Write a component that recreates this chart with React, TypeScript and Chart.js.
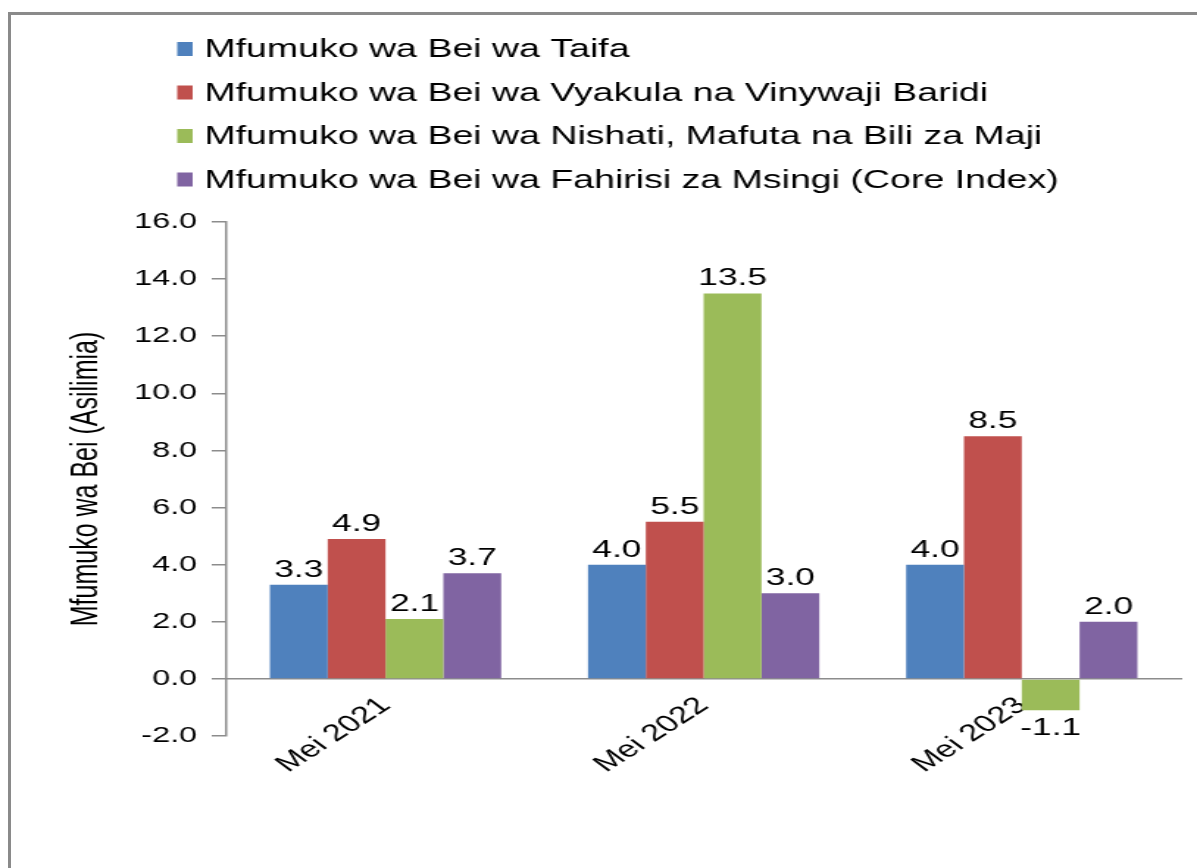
import React, { useEffect, useRef } from "react";
import { Chart, registerables } from "chart.js";

Chart.register(...registerables);

const categories = ["Mei 2021", "Mei 2022", "Mei 2023"];
const seriesNames = [
  "Mfumuko wa Bei wa Taifa",
  "Mfumuko wa Bei wa Vyakula na Vinywaji Baridi",
  "Mfumuko wa Bei wa Nishati, Mafuta na Bili za Maji",
  "Mfumuko wa Bei wa Fahirisi za Msingi (Core Index)",
];
const taifa = [3.3, 4.0, 4.0];
const vyakula = [4.9, 5.5, 8.5];
const nishati = [2.1, 13.5, -1.1];
const msingi = [3.7, 3.0, 2.0];
const seriesValues = [taifa, vyakula, nishati, msingi];
const seriesColors = ["#4F81BD", "#C0504D", "#9BBB59", "#8064A2"];
const yMin = -2;
const yMax = 16;
const yStep = 2;
const yAxisTitle = "Mfumuko wa Bei (Asilimia)";

const FONT = "'Liberation Sans', Arial, Helvetica, sans-serif";
const CANVAS_W = 814;
const CANVAS_H = 868;
const STRETCH = 1197 / CANVAS_W;

const legendPlugin = {
  id: "stackedLegend",
  afterDraw(chart: any) {
    const ctx = chart.ctx;
    ctx.save();
    ctx.font = `25.5px ${FONT}`;
    ctx.textBaseline = "middle";
    ctx.textAlign = "left";
    chart.data.datasets.forEach((ds: any, i: number) => {
      const cy = 49 + i * 43.5;
      ctx.fillStyle = ds.backgroundColor;
      ctx.fillRect(120.5, cy - 7, 10.5, 14);
      ctx.fillStyle = "#000";
      ctx.fillText(ds.label, 139, cy + 1);
    });
    ctx.restore();
  },
};

const dataLabelPlugin = {
  id: "barValueLabels",
  afterDatasetsDraw(chart: any) {
    const ctx = chart.ctx;
    ctx.save();
    ctx.font = `24px ${FONT}`;
    ctx.fillStyle = "#000";
    ctx.textAlign = "center";
    ctx.textBaseline = "alphabetic";
    chart.data.datasets.forEach((ds: any, i: number) => {
      const meta = chart.getDatasetMeta(i);
      meta.data.forEach((bar: any, j: number) => {
        const v = ds.data[j] as number;
        const { x, y } = bar.getProps(["x", "y"], true);
        const txt = v.toFixed(1);
        if (v >= 0) ctx.fillText(txt, x, y - 8);
        else ctx.fillText(txt, x, y + 25);
      });
    });
    ctx.restore();
  },
};

export default function App() {
  const ref = useRef<HTMLCanvasElement>(null);

  useEffect(() => {
    if (!ref.current) return;
    Chart.defaults.font.family = FONT;
    const chart = new Chart(ref.current, {
      type: "bar",
      data: {
        labels: categories,
        datasets: seriesNames.map((name, i) => ({
          label: name,
          data: seriesValues[i],
          backgroundColor: seriesColors[i],
          borderWidth: 0,
          categoryPercentage: 0.727,
          barPercentage: 1.0,
        })),
      },
      options: {
        animation: false,
        responsive: false,
        devicePixelRatio: 1,
        layout: { padding: { top: 222, bottom: 132, left: 0, right: 11 } },
        plugins: {
          legend: { display: false },
          tooltip: { enabled: false },
        },
        scales: {
          x: {
            type: "category",
            position: { y: 0 } as any,
            offset: true,
            grid: {
              display: true,
              drawOnChartArea: false,
              drawTicks: true,
              tickLength: 8,
              tickColor: "rgba(0,0,0,0)",
              color: "rgba(0,0,0,0)",
            },
            border: { display: true, color: "#8c8c8c", width: 1.5 },
            ticks: {
              color: "#000",
              font: { size: 23.5, family: FONT },
              minRotation: 43,
              maxRotation: 43,
              autoSkip: false,
              padding: 5,
            },
          },
          y: {
            type: "linear",
            position: "left",
            min: yMin,
            max: yMax,
            afterFit(scale: any) {
              scale.width = 154;
            },
            grid: {
              drawOnChartArea: false,
              drawTicks: true,
              tickLength: 10,
              color: "#8c8c8c",
              tickColor: "#8c8c8c",
              lineWidth: 1.5,
            },
            border: { display: true, color: "#8c8c8c", width: 1.5 },
            ticks: {
              stepSize: yStep,
              color: "#000",
              font: { size: 22, family: FONT },
              padding: 10,
              callback: (v: any) => Number(v).toFixed(1),
            },
            title: {
              display: true,
              text: yAxisTitle,
              color: "#000",
              font: { size: 25, family: FONT },
              padding: { top: 44, bottom: 0 },
            },
          },
        },
      },
      plugins: [dataLabelPlugin, legendPlugin],
    } as any);
    return () => chart.destroy();
  }, []);

  return (
    <>
      <div
        style={{
          position: "fixed",
          left: 8,
          top: 12,
          right: 0,
          bottom: 0,
          borderLeft: "3px solid #8a8a8a",
          borderTop: "3px solid #8a8a8a",
        }}
      />
      <div
        style={{
          position: "fixed",
          left: 0,
          top: 0,
          width: CANVAS_W,
          height: CANVAS_H,
          transform: `scaleX(${STRETCH})`,
          transformOrigin: "0 0",
        }}
      >
        <canvas
          ref={ref}
          width={CANVAS_W}
          height={CANVAS_H}
          style={{ width: CANVAS_W, height: CANVAS_H, display: "block" }}
        />
      </div>
    </>
  );
}
